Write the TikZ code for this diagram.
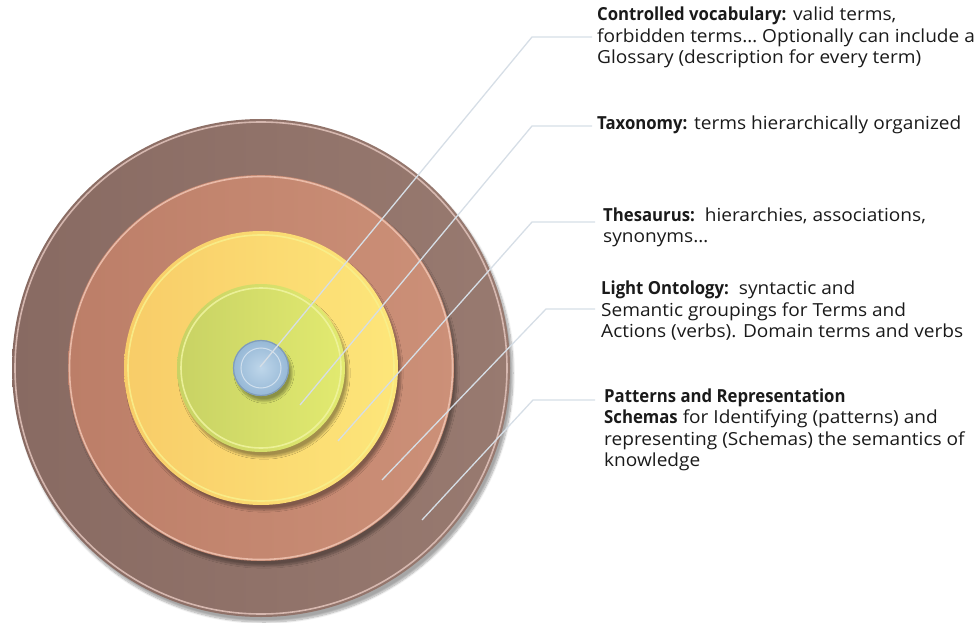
\documentclass[tikz,border=0pt]{standalone}
\usepackage{fontspec}
\setmainfont{Open Sans}[FakeStretch=1.06, BoldFeatures={FakeStretch=0.93}]
\usetikzlibrary{shadows.blur}
\definecolor{brownA}{RGB}{136,106,98}
\definecolor{brownB}{RGB}{152,122,112}
\definecolor{brownRim}{RGB}{226,196,188}
\definecolor{salA}{RGB}{188,126,104}
\definecolor{salB}{RGB}{204,144,120}
\definecolor{salRim}{RGB}{240,196,178}
\definecolor{yelA}{RGB}{248,204,104}
\definecolor{yelB}{RGB}{253,230,122}
\definecolor{yelRim}{RGB}{248,240,140}
\definecolor{grnA}{RGB}{200,210,100}
\definecolor{grnB}{RGB}{226,234,112}
\definecolor{grnRim}{RGB}{240,244,160}
\definecolor{bluA}{RGB}{190,214,234}
\definecolor{bluB}{RGB}{150,184,214}
\definecolor{bluRim}{RGB}{128,156,184}
\definecolor{leader}{RGB}{214,222,230}
\definecolor{txt}{RGB}{26,26,26}
\tikzset{
  disc/.style={circle, inner sep=0pt, draw=none,
    blur shadow={shadow xshift=3pt, shadow yshift=-5pt, shadow blur steps=10, shadow opacity=35}},
  rim/.style={line width=1.6pt, opacity=0.85},
  lead/.style={draw=leader, line width=1.3pt},
  lab/.style={anchor=west, align=left, inner sep=0pt, text=txt,
    font=\fontsize{18}{21.5}\selectfont}
}
\begin{document}
\begin{tikzpicture}[x=1pt,y=-1pt]
\useasboundingbox (0,0) rectangle (978,623);
\coordinate (c) at (261,368);
% discs
\node[disc, minimum size=498pt, left color=brownA, right color=brownB] (d5) at (c) {};
\draw[rim, brownRim] (c) circle[radius=246];
\node[disc, minimum size=386pt, left color=salA, right color=salB] (d4) at (c) {};
\draw[rim, salRim] (c) circle[radius=191.5];
\node[disc, minimum size=274pt, left color=yelA, right color=yelB] (d3) at (c) {};
\draw[rim, yelRim] (c) circle[radius=133];
\node[disc, minimum size=168pt, left color=grnA, right color=grnB] (d2) at (c) {};
\draw[rim, grnRim] (c) circle[radius=80];
\node[disc, minimum size=56pt, inner color=bluA, outer color=bluB] (d1) at (c) {};
\draw[line width=1.2pt, bluRim] (c) circle[radius=27.5];
\draw[line width=1pt, white, opacity=0.5] (c) circle[radius=20];
% labels
\node[lab] (lab1) at (597,37.5) {\textbf{Controlled vocabulary:} valid terms,\\forbidden terms… Optionally can include a\\Glossary (description for every term)};
\node[lab] (lab2) at (597,125) {\textbf{Taxonomy:} terms hierarchically organized};
\node[lab] (lab3) at (603,227.5) {\textbf{Thesaurus:}\ \ hierarchies, associations,\\synonyms…};
\node[lab] (lab4) at (601,311) {\textbf{Light Ontology:}\ \ syntactic and\\Semantic groupings for Terms and\\Actions (verbs). Domain terms and verbs};
\node[lab] (lab5) at (604,430) {\textbf{Patterns and Representation}\\\textbf{Schemas} for Identifying (patterns) and\\representing (Schemas) the semantics of\\knowledge};
% leader lines
\coordinate (e1) at (260,367); \coordinate (b1) at (532,37);
\coordinate (e2) at (300,405); \coordinate (b2) at (532,126);
\coordinate (e3) at (338,441); \coordinate (b3) at (532,222);
\coordinate (e4) at (382,480); \coordinate (b4) at (546,309);
\coordinate (e5) at (422,520); \coordinate (b5) at (533,400);
\draw[lead] (e1) -- (b1) -- ([xshift=-5pt]lab1.west |- b1);
\draw[lead] (e2) -- (b2) -- ([xshift=-5pt]lab2.west |- b2);
\draw[lead] (e3) -- (b3) -- ([xshift=-8pt]lab3.west |- b3);
\draw[lead] (e4) -- (b4) -- ([xshift=-6pt]lab4.west |- b4);
\draw[lead] (e5) -- (b5) -- ([xshift=-9pt]lab5.west |- b5);
\end{tikzpicture}
\end{document}
